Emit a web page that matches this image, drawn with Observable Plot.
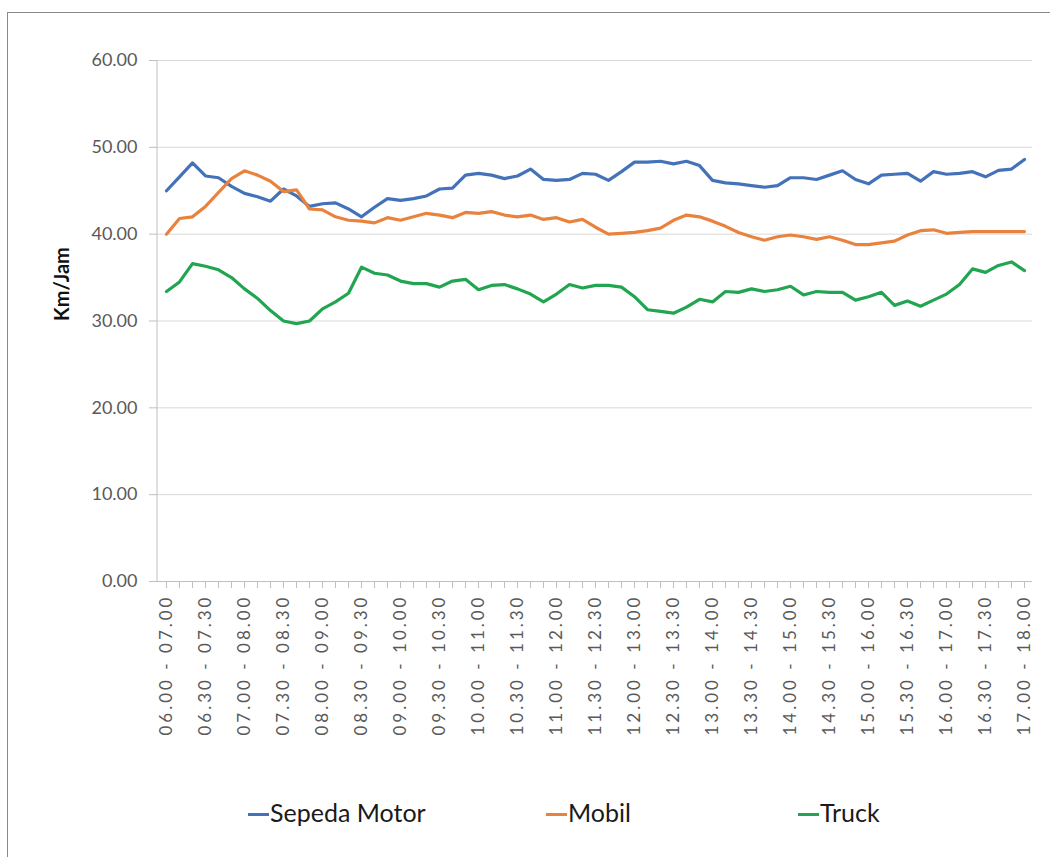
<!DOCTYPE html>
<html>
<head>
<meta charset="utf-8">
<script src="https://cdn.jsdelivr.net/npm/d3@7"></script>
<script src="https://cdn.jsdelivr.net/npm/@observablehq/plot@0.6"></script>
<style>
  body { margin: 0; background: #fff; }
  #wrap { position: relative; width: 1050px; height: 857px; overflow: hidden; background: #fff; font-family: Lato, "Open Sans", sans-serif; }
  #border { position: absolute; left: 7px; top: 12px; right: -4px; bottom: -4px; border-top: 1.5px solid #8a8a8a; border-left: 1.5px solid #8a8a8a; }
  #chart { position: absolute; left: 0; top: 0; }
  .leg { position: absolute; top: 792px; height: 40px; line-height: 40px; font-size: 25px; color: #1a1a1a; white-space: nowrap; }
  .leg .sw { display: inline-block; width: 21px; height: 3px; vertical-align: middle; margin-right: 1px; position: relative; top: -1px; }
</style>
</head>
<body>
<div id="wrap">
  <div id="border"></div>
  <div id="chart"></div>
  <div id="legend"></div>
</div>
<script>
// Categories (10-minute moving one-hour windows)
const categories = [
  "06.00 - 07.00","06.10 - 07.10","06.20 - 07.20","06.30 - 07.30","06.40 - 07.40","06.50 - 07.50",
  "07.00 - 08.00","07.10 - 08.10","07.20 - 08.20","07.30 - 08.30","07.40 - 08.40","07.50 - 08.50",
  "08.00 - 09.00","08.10 - 09.10","08.20 - 09.20","08.30 - 09.30","08.40 - 09.40","08.50 - 09.50",
  "09.00 - 10.00","09.10 - 10.10","09.20 - 10.20","09.30 - 10.30","09.40 - 10.40","09.50 - 10.50",
  "10.00 - 11.00","10.10 - 11.10","10.20 - 11.20","10.30 - 11.30","10.40 - 11.40","10.50 - 11.50",
  "11.00 - 12.00","11.10 - 12.10","11.20 - 12.20","11.30 - 12.30","11.40 - 12.40","11.50 - 12.50",
  "12.00 - 13.00","12.10 - 13.10","12.20 - 13.20","12.30 - 13.30","12.40 - 13.40","12.50 - 13.50",
  "13.00 - 14.00","13.10 - 14.10","13.20 - 14.20","13.30 - 14.30","13.40 - 14.40","13.50 - 14.50",
  "14.00 - 15.00","14.10 - 15.10","14.20 - 15.20","14.30 - 15.30","14.40 - 15.40","14.50 - 15.50",
  "15.00 - 16.00","15.10 - 16.10","15.20 - 16.20","15.30 - 16.30","15.40 - 16.40","15.50 - 16.50",
  "16.00 - 17.00","16.10 - 17.10","16.20 - 17.20","16.30 - 17.30","16.40 - 17.40","16.50 - 17.50",
  "17.00 - 18.00"
];

// Tick labels shown on the x axis
const xTickLabels = [
  "06.00 - 07.00","06.30 - 07.30","07.00 - 08.00","07.30 - 08.30","08.00 - 09.00","08.30 - 09.30",
  "09.00 - 10.00","09.30 - 10.30","10.00 - 11.00","10.30 - 11.30","11.00 - 12.00","11.30 - 12.30",
  "12.00 - 13.00","12.30 - 13.30","13.00 - 14.00","13.30 - 14.30","14.00 - 15.00","14.30 - 15.30",
  "15.00 - 16.00","15.30 - 16.30","16.00 - 17.00","16.30 - 17.30","17.00 - 18.00"
];

const yTicks = [0, 10, 20, 30, 40, 50, 60];

const seriesNames = ["Sepeda Motor", "Mobil", "Truck"];
const seriesColors = ["#4472b8", "#e9823c", "#22a550"];

const sepedaMotor = [
  45.0, 46.6, 48.2, 46.7, 46.5, 45.5, 44.7, 44.3, 43.8, 45.2, 44.4, 43.2,
  43.5, 43.6, 42.9, 42.0, 43.1, 44.1, 43.9, 44.1, 44.4, 45.2, 45.3, 46.8,
  47.0, 46.8, 46.4, 46.7, 47.5, 46.3, 46.2, 46.3, 47.0, 46.9, 46.2, 47.2,
  48.3, 48.3, 48.4, 48.1, 48.4, 47.9, 46.2, 45.9, 45.8, 45.6, 45.4, 45.6,
  46.5, 46.5, 46.3, 46.8, 47.3, 46.3, 45.8, 46.8, 46.9, 47.0, 46.1, 47.2,
  46.9, 47.0, 47.2, 46.6, 47.35, 47.5, 48.6
];

const mobil = [
  40.0, 41.8, 42.0, 43.2, 44.8, 46.4, 47.3, 46.8, 46.1, 44.9, 45.1, 42.9,
  42.8, 42.0, 41.6, 41.5, 41.3, 41.9, 41.6, 42.0, 42.4, 42.2, 41.9, 42.5,
  42.4, 42.6, 42.2, 42.0, 42.2, 41.7, 41.9, 41.4, 41.7, 40.8, 40.0, 40.1,
  40.2, 40.4, 40.7, 41.6, 42.2, 42.0, 41.5, 40.9, 40.2, 39.7, 39.3, 39.7,
  39.9, 39.7, 39.4, 39.7, 39.3, 38.8, 38.8, 39.0, 39.2, 39.9, 40.4, 40.5,
  40.1, 40.2, 40.3, 40.3, 40.3, 40.3, 40.3
];

const truck = [
  33.4, 34.5, 36.6, 36.3, 35.9, 35.0, 33.7, 32.6, 31.2, 30.0, 29.7, 30.0,
  31.4, 32.2, 33.2, 36.2, 35.5, 35.3, 34.6, 34.3, 34.3, 33.9, 34.6, 34.8,
  33.6, 34.1, 34.2, 33.7, 33.1, 32.2, 33.1, 34.2, 33.8, 34.1, 34.1, 33.9,
  32.8, 31.3, 31.1, 30.9, 31.6, 32.5, 32.2, 33.4, 33.3, 33.7, 33.4, 33.6,
  34.0, 33.0, 33.4, 33.3, 33.3, 32.4, 32.8, 33.3, 31.8, 32.3, 31.7, 32.4,
  33.1, 34.2, 36.0, 35.6, 36.4, 36.8, 35.8
];

const seriesValues = [sepedaMotor, mobil, truck];

const data = [];
seriesNames.forEach((name, s) => {
  categories.forEach((c, i) => data.push({ cat: c, series: name, v: seriesValues[s][i] }));
});

const axisLineLeft = (index, scales, values, dimensions) => {
  const { marginLeft, marginTop, height, marginBottom } = dimensions;
  const l = d3.create("svg:line")
    .attr("x1", marginLeft).attr("x2", marginLeft)
    .attr("y1", marginTop).attr("y2", height - marginBottom)
    .attr("stroke", "#bfbfbf").attr("stroke-width", 1);
  return l.node();
};

const chart = Plot.plot({
  width: 1050,
  height: 792,
  marginLeft: 157,
  marginRight: 18,
  marginTop: 60,
  marginBottom: 211,
  style: { fontFamily: "Lato, 'Open Sans', sans-serif", fontSize: "17px", color: "#595959", background: "transparent" },
  x: { type: "point", domain: categories, padding: 0.5, label: null },
  y: { domain: [0, 60], label: null },
  color: { domain: seriesNames, range: seriesColors },
  marks: [
    Plot.gridY(yTicks, { stroke: "#d9d9d9", strokeOpacity: 1, strokeWidth: 1 }),
    axisLineLeft,
    Plot.ruleY([0], { stroke: "#bfbfbf", strokeWidth: 1 }),
    Plot.axisY({ ticks: yTicks, tickSize: 8, tickPadding: 12, stroke: "#bfbfbf", strokeOpacity: 1, tickFormat: d => d.toFixed(2), fill: "#595959", fontSize: 18, label: null }),
    Plot.axisX({ ticks: categories, tickSize: 7, tickFormat: () => "", stroke: "#bfbfbf", strokeOpacity: 1, label: null }),
    Plot.axisX({ ticks: xTickLabels, tickSize: 0, tickPadding: 16, tickRotate: -90, fill: "#595959", fontSize: 17, label: null }),
    Plot.text(["Km/Jam"], { frameAnchor: "left", rotate: -90, dx: -95, fontWeight: "bold", fontSize: 20, fill: "#111" }),
    Plot.line(data, { x: "cat", y: "v", stroke: "series", strokeWidth: 3.2, strokeLinejoin: "round", strokeLinecap: "round" })
  ]
});

chart.querySelectorAll('[aria-label="x-axis tick label"] text').forEach(t => {
  t.setAttribute("textLength", 138);
  t.setAttribute("lengthAdjust", "spacing");
});

document.getElementById("chart").appendChild(chart);

// Legend
const legendLefts = [248, 546, 798];
const legend = document.getElementById("legend");
seriesNames.forEach((name, i) => {
  const item = document.createElement("div");
  item.className = "leg";
  item.style.left = legendLefts[i] + "px";
  item.innerHTML = `<span class="sw" style="background:${seriesColors[i]}"></span>${name}`;
  legend.appendChild(item);
});
</script>
</body>
</html>
